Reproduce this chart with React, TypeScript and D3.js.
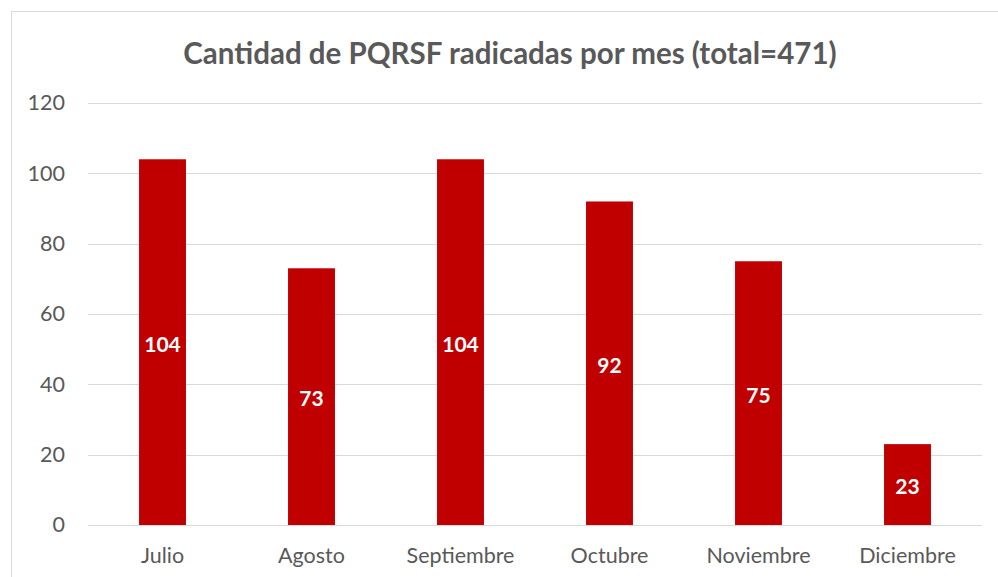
import React, { useEffect, useRef } from 'react'
import * as d3 from 'd3'

const months = ['Julio', 'Agosto', 'Septiembre', 'Octubre', 'Noviembre', 'Diciembre']
const counts = [104, 73, 104, 92, 75, 23]
const yTicks = [0, 20, 40, 60, 80, 100, 120]
const title = 'Cantidad de PQRSF radicadas por mes (total=471)'

export default function App() {
    const ref = useRef<SVGSVGElement>(null)

    useEffect(() => {
        const width = 998
        const height = 577
        const margin = { top: 103, right: 16, bottom: 52, left: 88 }
        const font = 'Lato, Carlito, Calibri, sans-serif'

        const svg = d3.select(ref.current)
        svg.selectAll('*').remove()

        // chart frame (runs off the right and bottom edge)
        svg.append('rect')
            .attr('x', 11.5)
            .attr('y', 11.5)
            .attr('width', width + 20)
            .attr('height', height + 20)
            .attr('fill', '#fff')
            .attr('stroke', '#d9d9d9')

        const graphWidth = width - margin.left - margin.right
        const graphHeight = height - margin.top - margin.bottom

        const graph = svg.append('g')
            .attr('transform', `translate(${margin.left}, ${margin.top})`)

        const x = d3.scaleBand()
            .domain(months)
            .range([0, graphWidth])
            .paddingInner(0.685)
            .paddingOuter(0.3425)

        const y = d3.scaleLinear()
            .domain([0, 120])
            .range([graphHeight, 0])

        // gridlines
        graph.selectAll('line.grid')
            .data(yTicks)
            .enter()
            .append('line')
            .attr('class', 'grid')
            .attr('x1', 0)
            .attr('x2', graphWidth)
            .attr('y1', d => Math.round(y(d)) + 0.5)
            .attr('y2', d => Math.round(y(d)) + 0.5)
            .attr('stroke', '#d9d9d9')
            .attr('stroke-width', 1)

        // y labels
        const yAxis = d3.axisLeft(y).tickValues(yTicks).tickSize(0).tickPadding(23)
        const yAxisGroup = graph.append('g').call(yAxis)
        yAxisGroup.select('.domain').remove()
        yAxisGroup.selectAll('text')
            .attr('fill', '#595959')
            .attr('font-size', 21.5)
            .attr('font-family', font)

        // x labels
        const xAxis = d3.axisBottom(x).tickSize(0).tickPadding(23)
        const xAxisGroup = graph.append('g')
            .attr('transform', `translate(0, ${graphHeight})`)
            .call(xAxis)
        xAxisGroup.select('.domain').remove()
        xAxisGroup.selectAll('text')
            .attr('fill', '#595959')
            .attr('font-size', 21.5)
            .attr('font-family', font)

        // bars
        const data = months.map((m, i) => ({ month: m, value: counts[i] }))
        graph.selectAll('rect.bar')
            .data(data)
            .enter()
            .append('rect')
            .attr('class', 'bar')
            .attr('x', d => x(d.month)!)
            .attr('width', x.bandwidth())
            .attr('y', d => y(d.value))
            .attr('height', d => graphHeight - y(d.value))
            .attr('fill', '#c00000')

        // value labels, centred in the bar
        graph.selectAll('text.val')
            .data(data)
            .enter()
            .append('text')
            .attr('class', 'val')
            .attr('x', d => x(d.month)! + x.bandwidth() / 2)
            .attr('y', d => (y(d.value) + graphHeight) / 2)
            .attr('dy', '0.45em')
            .attr('text-anchor', 'middle')
            .attr('fill', '#fff')
            .attr('font-weight', 'bold')
            .attr('font-size', 21)
            .attr('font-family', font)
            .text(d => d.value)

        // title
        svg.append('text')
            .attr('x', 510)
            .attr('y', 64)
            .attr('text-anchor', 'middle')
            .attr('fill', '#595959')
            .attr('font-weight', 'bold')
            .attr('font-size', 29.5)
            .attr('font-family', font)
            .text(title)
    }, [])

    return (
        <svg ref={ref} width={998} height={577}
            style={{ position: 'fixed', left: 0, top: 0, display: 'block' }} />
    )
}
